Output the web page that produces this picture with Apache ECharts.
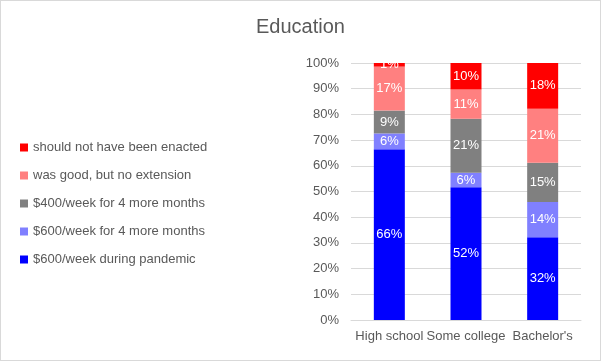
<!DOCTYPE html>
<html><head><meta charset="utf-8">
<script src="https://cdn.jsdelivr.net/npm/echarts@6/dist/echarts.min.js"></script>
<style>html,body{margin:0;padding:0;background:#fff}#c{width:601px;height:361px;box-sizing:border-box;border:1px solid #d9d9d9}</style>
</head><body><div id="c"></div>
<script>
const categories = ["High school", "Some college", "Bachelor's"];
const seriesNames = ["$600/week during pandemic", "$600/week for 4 more months", "$400/week for 4 more months", "was good, but no extension", "should not have been enacted"];
const pandemic600 = [66.4, 51.7, 32.2];
const more600 = [6.2, 5.6, 13.7];
const more400 = [8.9, 21.0, 15.3];
const goodNoExt = [17.1, 11.4, 21.0];
const notEnacted = [1.4, 10.3, 17.8];
const yTicks = ["0%", "10%", "20%", "30%", "40%", "50%", "60%", "70%", "80%", "90%", "100%"];

const colors = ["#0000FF", "#8080FF", "#808080", "#FF8080", "#FF0000"];
const values = [pandemic600, more600, more400, goodNoExt, notEnacted];
const font = "Liberation Sans";
const chart = echarts.init(document.getElementById('c'));
chart.setOption({
  animation: false,
  textStyle: {fontFamily: font},
  title: {text: "Education", left: 'center', top: 11, textStyle: {fontFamily: font, fontSize: 20, fontWeight: 'normal', color: '#595959'}},
  legend: {
    orient: 'vertical', left: 14, top: 135, icon: 'rect', itemWidth: 8, itemHeight: 8, itemGap: 15,
    data: seriesNames.slice().reverse(),
    textStyle: {fontFamily: font, fontSize: 13, color: '#595959'}
  },
  grid: {left: 350, right: 19, top: 62, bottom: 40},
  xAxis: {
    type: 'category', data: categories,
    axisLine: {lineStyle: {color: '#d9d9d9'}}, axisTick: {show: false},
    axisLabel: {interval: 0, color: '#595959', fontSize: 13, margin: 10, fontFamily: font}
  },
  yAxis: {
    type: 'value', min: 0, max: 100, interval: 10,
    axisLabel: {color: '#595959', fontSize: 13, margin: 12, fontFamily: font, formatter: v => yTicks[Math.round(v / 10)]},
    splitLine: {lineStyle: {color: '#d9d9d9'}}
  },
  series: seriesNames.map((n, i) => ({
    name: n, type: 'bar', stack: 'all', barWidth: 31, data: values[i],
    itemStyle: {color: colors[i]},
    label: {show: true, position: 'inside', color: '#fff', fontSize: 13, fontFamily: font, formatter: p => Math.round(p.value) + '%'}
  }))
});
</script></body></html>
